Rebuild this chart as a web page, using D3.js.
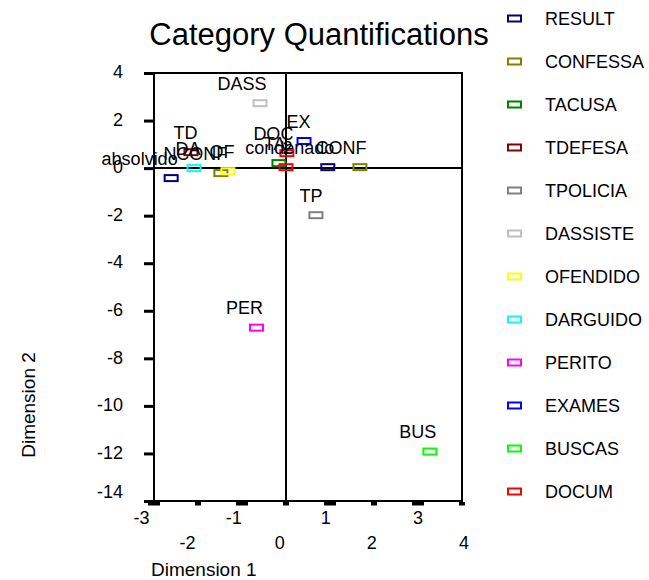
<!DOCTYPE html>
<html>
<head>
<meta charset="utf-8">
<script src="https://cdn.jsdelivr.net/npm/d3@7"></script>
<style>
  html, body { margin: 0; padding: 0; background: #fff; }
  svg { display: block; }
  text { font-family: "Liberation Sans", Arial, sans-serif; fill: #000; }
</style>
</head>
<body>
<svg id="chart" width="649" height="580"></svg>
<script>
// Variables (legend order) and their colours
const variables = ["RESULT", "CONFESSA", "TACUSA", "TDEFESA", "TPOLICIA", "DASSISTE",
                   "OFENDIDO", "DARGUIDO", "PERITO", "EXAMES", "BUSCAS", "DOCUM"];
const variableColors = ["#000080", "#808000", "#008000", "#800000", "#808080", "#c0c0c0",
                        "#ffff00", "#00ffff", "#ff00ff", "#0000ff", "#00ff00", "#ff0000"];

// Category quantifications
const catLabels   = ["absolvido", "condenado", "CONF", "NCONF", "TA", "TD", "TP", "DASS",
                     "OF", "DA", "PER", "EX", "BUS", "DOC", "2"];
const catVariable = ["RESULT", "RESULT", "CONFESSA", "CONFESSA", "TACUSA", "TDEFESA", "TPOLICIA", "DASSISTE",
                     "OFENDIDO", "DARGUIDO", "PERITO", "EXAMES", "BUSCAS", "DOCUM", "DOCUM"];
const dim1 = [-2.61, 0.95, 1.68, -1.48, -0.16, -2.16, 0.68, -0.59, -1.32, -2.09, -0.67, 0.41, 3.27, 0.02, 0.00];
const dim2 = [-0.42, 0.04, 0.04, -0.21, 0.21, 0.67, -1.98, 2.73, -0.13, 0.00, -6.71, 1.14, -11.92, 0.63, 0.04];

// Axis ticks
const xTicks = [-3, -2, -1, 0, 1, 2, 3, 4];
const yTicks = [4, 2, 0, -2, -4, -6, -8, -10, -12, -14];
const plainNumber = d => String(d);

const svg = d3.select("#chart");
const colorOf = d3.scaleOrdinal().domain(variables).range(variableColors);

// Plot frame
const frameLeft = 154, frameRight = 462, frameTop = 73, frameBottom = 501;
const x = d3.scaleLinear().domain([-3, 4]).range([frameLeft, frameRight]);
const y = d3.scaleLinear().domain([-14, 4]).range([frameBottom, frameTop]);
// tick labels sit on a slightly wider spacing than the tick marks
const xLab = d3.scaleLinear().domain([-3, 4]).range([141, 463.5]);

// Title
svg.append("text")
  .attr("x", 319).attr("y", 45)
  .attr("text-anchor", "middle")
  .style("font-size", "31px")
  .text("Category Quantifications");

// Frame
svg.append("rect")
  .attr("x", frameLeft).attr("y", frameTop)
  .attr("width", frameRight - frameLeft).attr("height", frameBottom - frameTop)
  .attr("fill", "none").attr("stroke", "#000").attr("stroke-width", 2);

// Zero reference lines
svg.append("line")
  .attr("x1", x(0)).attr("x2", x(0)).attr("y1", frameTop).attr("y2", frameBottom)
  .attr("stroke", "#000").attr("stroke-width", 2);
svg.append("line")
  .attr("x1", frameLeft).attr("x2", frameRight).attr("y1", y(0)).attr("y2", y(0))
  .attr("stroke", "#000").attr("stroke-width", 2);

// Y axis: short thick marks and labels
const yAxis = svg.append("g")
  .attr("transform", `translate(${frameLeft},0)`)
  .call(d3.axisLeft(y).tickValues(yTicks).tickSize(0).tickPadding(31).tickFormat(plainNumber));
yAxis.select(".domain").remove();
yAxis.selectAll(".tick text")
  .style("font-size", "18px")
  .attr("dy", "0.32em")
  .attr("y", d => d === -14 ? -9 : -1);
yAxis.selectAll(".tick").append("rect")
  .attr("x", -10).attr("y", -1.5).attr("width", 9).attr("height", 3)
  .attr("fill", "#000");

// X axis: marks below the frame
const xMarks = svg.append("g");
xMarks.selectAll("rect").data(xTicks).join("rect")
  .attr("x", d => x(d) - (d % 2 ? 6 : 3))
  .attr("y", frameBottom + 1)
  .attr("width", d => d % 2 ? 12 : 6)
  .attr("height", 3.5)
  .attr("fill", "#000");

// X tick labels in two staggered rows
const xAxisOdd = svg.append("g")
  .attr("transform", `translate(0,${frameBottom})`)
  .call(d3.axisBottom(xLab).tickValues(xTicks.filter(d => d % 2 !== 0)).tickSize(0).tickPadding(10).tickFormat(plainNumber));
const xAxisEven = svg.append("g")
  .attr("transform", `translate(0,${frameBottom})`)
  .call(d3.axisBottom(xLab).tickValues(xTicks.filter(d => d % 2 === 0)).tickSize(0).tickPadding(35).tickFormat(plainNumber));
[xAxisOdd, xAxisEven].forEach(g => {
  g.select(".domain").remove();
  g.selectAll(".tick text").style("font-size", "18px");
});

// Axis titles
svg.append("text")
  .attr("x", 151).attr("y", 576)
  .style("font-size", "19px")
  .text("Dimension 1");
svg.append("text")
  .attr("transform", "translate(35,405) rotate(-90)")
  .attr("text-anchor", "middle")
  .style("font-size", "19px")
  .text("Dimension 2");

// Category points
const points = catLabels.map((label, i) => ({
  label, variable: catVariable[i], d1: dim1[i], d2: dim2[i]
}));
const pts = svg.append("g");
pts.selectAll("rect").data(points).join("rect")
  .attr("x", d => x(d.d1) - 6.5)
  .attr("y", d => y(d.d2) - 3)
  .attr("width", 13).attr("height", 6)
  .attr("fill", "none")
  .attr("stroke", d => colorOf(d.variable))
  .attr("stroke-width", 2);
pts.selectAll("text").data(points).join("text")
  .attr("x", d => x(d.d1) + 6.5)
  .attr("y", d => y(d.d2) - 13.5)
  .attr("text-anchor", "end")
  .style("font-size", "18px")
  .text(d => d.label);

// Legend
const legend = svg.append("g");
const rowY = d3.scalePoint().domain(variables).range([18.5, 491.5]);
const rows = legend.selectAll("g").data(variables).join("g")
  .attr("transform", d => `translate(0,${rowY(d)})`);
rows.append("rect")
  .attr("x", 508).attr("y", -3)
  .attr("width", 13).attr("height", 6)
  .attr("fill", "none")
  .attr("stroke", d => colorOf(d))
  .attr("stroke-width", 2);
rows.append("text")
  .attr("x", 545).attr("dy", "0.36em")
  .style("font-size", "18px")
  .text(d => d);
</script>
</body>
</html>
